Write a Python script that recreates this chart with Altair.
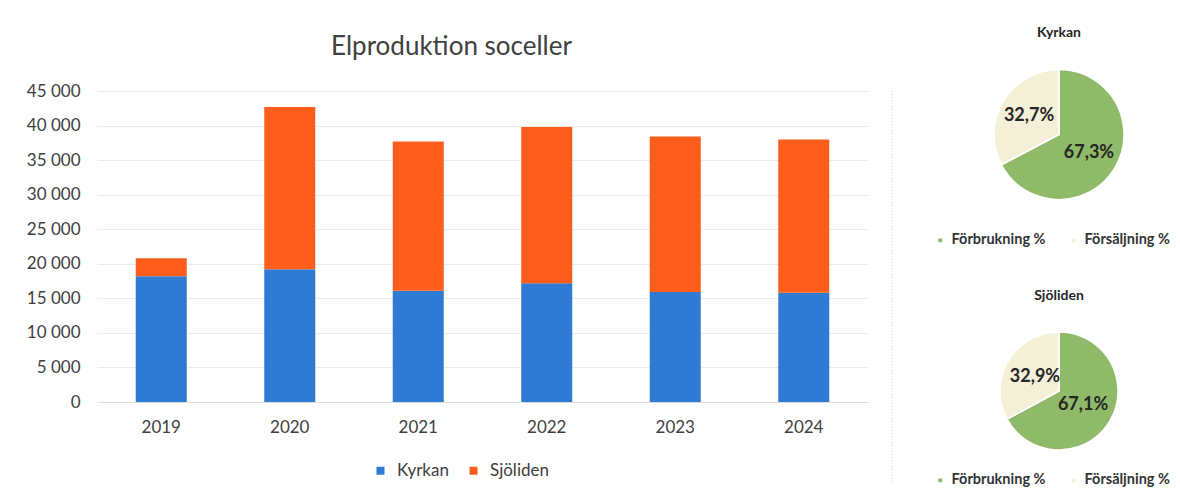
import altair as alt
import pandas as pd

# ---- data ----
years = ["2019", "2020", "2021", "2022", "2023", "2024"]
kyrkan = [18200, 19200, 16100, 17200, 15900, 15800]
sjoliden = [2600, 23500, 21600, 22600, 22500, 22200]
series_names = ["Kyrkan", "Sjöliden"]
series_colors = ["#2f7ad3", "#fd5e1c"]
y_ticks = [0, 5000, 10000, 15000, 20000, 25000, 30000, 35000, 40000, 45000]

pie_categories = ["Förbrukning %", "Försäljning %"]
pie_colors = ["#8fba6a", "#f4f0d8"]
kyrkan_pct = [67.3, 32.7]
sjoliden_pct = [67.1, 32.9]

FONT = "Lato"
TXT = "#404040"

rows = []
for i, y in enumerate(years):
    rows.append({"year": y, "series": "Kyrkan", "sidx": 0, "value": kyrkan[i]})
    rows.append({"year": y, "series": "Sjöliden", "sidx": 1, "value": sjoliden[i]})
df = pd.DataFrame(rows)

bars = alt.Chart(df).mark_bar(size=51).encode(
    x=alt.X("year:N", sort=years,
            scale=alt.Scale(paddingInner=0, paddingOuter=0),
            axis=alt.Axis(title=None, labelAngle=0, ticks=False, labelPadding=17,
                          domain=True, domainColor="#dcdcdc", labelFontSize=17,
                          labelColor=TXT, labelFont=FONT, grid=False)),
    y=alt.Y("value:Q", stack="zero", scale=alt.Scale(domain=[0, 45000], nice=False),
            axis=alt.Axis(title=None, values=y_ticks,
                          labelExpr="replace(format(datum.value, ','), ',', ' ')",
                          grid=True, gridColor="#ebebeb", domain=False, ticks=False,
                          labelPadding=17, labelFontSize=17, labelColor=TXT,
                          labelFont=FONT, minExtent=89, maxExtent=89)),
    color=alt.Color("series:N", scale=alt.Scale(domain=series_names, range=series_colors),
                    legend=alt.Legend(orient="none", legendX=275, legendY=371,
                                      direction="horizontal", title=None,
                                      symbolType="square", symbolSize=64,
                                      labelFontSize=17, labelColor=TXT, labelFont=FONT,
                                      columnPadding=16, labelOffset=8)),
    order=alt.Order("sidx:Q"),
)

one = pd.DataFrame({"a": [0]})
sep = alt.Chart(one).mark_rule(color="#cfcfcf", strokeDash=[1, 2], strokeWidth=1).encode(
    x=alt.value(795), y=alt.value(0), y2=alt.value(393))

bar_chart = alt.layer(bars, sep).properties(
    width=771, height=311,
    title=alt.TitleParams("Elproduktion soceller", fontSize=26, font=FONT,
                          fontWeight="normal", color=TXT, offset=22, anchor="middle",
                          dx=-31),
)


def pie(name, pcts, radius, text_radius, height, title_offset, legend_y):
    d = pd.DataFrame({
        "cat": pie_categories,
        "idx": [0, 1],
        "value": pcts,
        "label": [f"{v:.1f}".replace(".", ",") + "%" for v in pcts],
    })
    base = alt.Chart(d).encode(
        theta=alt.Theta("value:Q", stack=True),
        order=alt.Order("idx:Q"),
    )
    arc = base.mark_arc(outerRadius=radius, stroke="white", strokeWidth=1.5).encode(
        color=alt.Color("cat:N", scale=alt.Scale(domain=pie_categories, range=pie_colors),
                        legend=alt.Legend(orient="none", legendX=-26, legendY=legend_y,
                                          direction="horizontal", title=None,
                                          symbolType="square", symbolSize=30,
                                          labelFontSize=14.5, labelFontWeight="bold",
                                          labelColor="#333333", labelFont=FONT,
                                          columnPadding=20, labelOffset=4, labelLimit=300)),
    )
    txt = base.mark_text(radius=text_radius, fontSize=18, fontWeight="bold",
                         font=FONT, color="#262626").encode(text="label:N")
    return alt.layer(arc, txt).properties(
        width=200, height=height,
        title=alt.TitleParams(name, fontSize=14, font=FONT, fontWeight="bold",
                              color="#262626", offset=title_offset, anchor="middle"),
    )


pie1 = pie("Kyrkan", kyrkan_pct, 65, 35, 87, 27, 142)
pie2 = pie("Sjöliden", sjoliden_pct, 59, 28, 118, 26, 141)

pies = alt.vconcat(pie1, pie2, spacing=42).resolve_scale(color="independent", theta="independent")

chart = alt.hconcat(bar_chart, pies, spacing=40).resolve_scale(color="independent").properties(
    padding={"top": 17, "left": 0, "right": 0, "bottom": 0}
).configure_view(stroke=None)

chart.save("out.html", embed_options={"renderer": "svg", "actions": False})
